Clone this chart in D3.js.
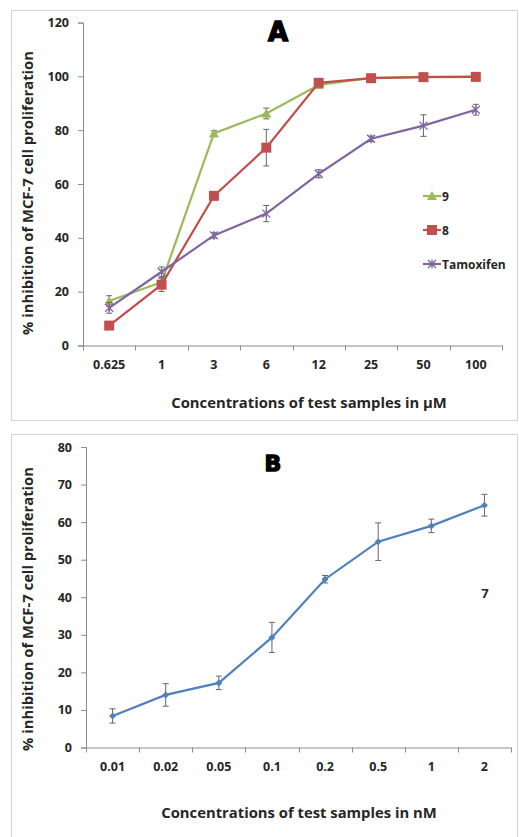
<!DOCTYPE html>
<html>
<head>
<meta charset="utf-8">
<script src="https://cdn.jsdelivr.net/npm/d3@7"></script>
<style>
  body { margin: 0; background: #fff; }
  svg text { font-family: "Open Sans", "Noto Sans", sans-serif; font-weight: bold; fill: #262626; }
</style>
</head>
<body>
<div id="chart"></div>
<script>
'use strict';

// Panel A data (µM)
const concA = ['0.625', '1', '3', '6', '12', '25', '50', '100'];
const val9 = [16.5, 23.5, 78.8, 86.2, 96.8, 99.4, 99.8, 99.9];
const err9 = [2, 1.5, 1, 2, 0.5, 0.3, 0.3, 0.3];
const val8 = [7.4, 22.6, 55.6, 73.5, 97.6, 99.3, 99.7, 99.8];
const err8 = [0.5, 2.5, 1, 6.8, 0.8, 0.3, 0.3, 0.3];
const valTam = [14, 27.4, 40.9, 49, 63.8, 76.8, 81.7, 87.6];
const errTam = [2, 1.8, 1, 3, 1.5, 1, 4, 2];
const ticksA = [0, 20, 40, 60, 80, 100, 120];

// Panel B data (nM)
const concB = ['0.01', '0.02', '0.05', '0.1', '0.2', '0.5', '1', '2'];
const val7 = [8.4, 14, 17.2, 29.3, 44.8, 54.8, 59, 64.5];
const err7 = [1.9, 3, 1.8, 4, 1, 5, 1.8, 2.9];
const ticksB = [0, 10, 20, 30, 40, 50, 60, 70, 80];

const yTitle = '% inhibition of MCF-7 cell proliferation';

const svg = d3.select('#chart').append('svg')
	.attr('width', 519)
	.attr('height', 837);

// panel frames
svg.append('rect').attr('x', 11.5).attr('y', 10.5).attr('width', 506).attr('height', 410)
	.attr('fill', 'none').attr('stroke', '#d4d4d4');
svg.append('rect').attr('x', 11.5).attr('y', 434.5).attr('width', 506).attr('height', 420)
	.attr('fill', 'none').attr('stroke', '#d4d4d4');

function drawPanel(cfg) {
	const g = svg.append('g');
	const x = d3.scaleBand().domain(cfg.cats).range([cfg.left, cfg.right]).padding(0);
	const y = d3.scaleLinear().domain([0, cfg.ymax]).range([cfg.bottom, cfg.top]);
	const cx = function(i) { return x(cfg.cats[i]) + x.bandwidth() / 2; };

	// y axis
	const yAxis = g.append('g')
		.attr('transform', 'translate(' + cfg.left + ',0)')
		.call(d3.axisLeft(y).tickValues(cfg.yticks).tickSize(5).tickPadding(9));
	yAxis.selectAll('text').style('font-size', '12.5px');

	// x axis: labels under band centres, ticks on category boundaries
	const xAxis = g.append('g')
		.attr('transform', 'translate(0,' + cfg.bottom + ')')
		.call(d3.axisBottom(x).tickSize(0).tickPadding(15));
	xAxis.selectAll('text').style('font-size', '12.5px');
	xAxis.selectAll('.domain').remove();
	g.append('line')
		.attr('x1', cfg.left).attr('x2', cfg.right)
		.attr('y1', cfg.bottom + 0.5).attr('y2', cfg.bottom + 0.5)
		.attr('stroke', '#8c8c8c');
	const bounds = cfg.cats.map(function(c) { return x(c); }).concat([cfg.right]);
	g.selectAll('.btick').data(bounds).enter().append('line')
		.attr('x1', function(d) { return Math.round(d) + 0.5; })
		.attr('x2', function(d) { return Math.round(d) + 0.5; })
		.attr('y1', cfg.bottom).attr('y2', cfg.bottom + 5)
		.attr('stroke', '#8c8c8c');
	g.selectAll('.domain, .tick line').attr('stroke', '#8c8c8c');

	// axis titles
	g.append('text')
		.attr('transform', 'translate(' + cfg.ytx + ',' + cfg.yty + ') rotate(-90)')
		.attr('text-anchor', 'middle')
		.style('font-size', '14.8px')
		.text(yTitle);
	g.append('text')
		.attr('x', cfg.xtx).attr('y', cfg.xty)
		.attr('text-anchor', 'middle')
		.style('font-size', '14.8px')
		.text(cfg.xTitle);

	// panel letter
	g.append('text')
		.attr('x', cfg.lx).attr('y', cfg.ly)
		.attr('text-anchor', 'middle')
		.style('font-family', '"DejaVu Sans", sans-serif')
		.style('font-weight', '900')
		.style('font-size', cfg.lsize + 'px')
		.style('fill', '#000')
		.attr('stroke', '#000').attr('stroke-width', 1.4)
		.text(cfg.letter);

	// series
	cfg.series.forEach(function(s) {
		const sg = g.append('g');
		const line = d3.line()
			.x(function(d, i) { return cx(i); })
			.y(function(d) { return y(d); });
		sg.append('path')
			.datum(s.values)
			.attr('fill', 'none')
			.attr('stroke', s.color)
			.attr('stroke-width', 2.2)
			.attr('d', line);

		// error bars
		const eb = sg.selectAll('.err').data(s.values).enter().append('g');
		eb.append('line')
			.attr('x1', function(d, i) { return cx(i); })
			.attr('x2', function(d, i) { return cx(i); })
			.attr('y1', function(d, i) { return y(d - s.errors[i]); })
			.attr('y2', function(d, i) { return y(d + s.errors[i]); })
			.attr('stroke', '#666').attr('stroke-width', 1);
		[-1, 1].forEach(function(sign) {
			eb.append('line')
				.attr('x1', function(d, i) { return cx(i) - 3; })
				.attr('x2', function(d, i) { return cx(i) + 3; })
				.attr('y1', function(d, i) { return y(d + sign * s.errors[i]); })
				.attr('y2', function(d, i) { return y(d + sign * s.errors[i]); })
				.attr('stroke', '#666').attr('stroke-width', 1);
		});

		// markers
		sg.selectAll('.mk').data(s.values).enter().append('path')
			.attr('transform', function(d, i) { return 'translate(' + cx(i) + ',' + y(d) + ')'; })
			.attr('d', markerPath(s.marker))
			.attr('fill', s.marker === 'x' ? 'none' : s.color)
			.attr('stroke', s.color)
			.attr('stroke-width', s.marker === 'x' ? 1.3 : 0);
	});

	// legend
	if (cfg.legend) {
		cfg.series.forEach(function(s, i) {
			const ly = cfg.legend.y + i * cfg.legend.gap;
			const lx = cfg.legend.x;
			g.append('line')
				.attr('x1', lx).attr('x2', lx + 18)
				.attr('y1', ly).attr('y2', ly)
				.attr('stroke', s.color).attr('stroke-width', 2.2);
			g.append('path')
				.attr('transform', 'translate(' + (lx + 9) + ',' + ly + ')')
				.attr('d', markerPath(s.marker))
				.attr('fill', s.marker === 'x' ? 'none' : s.color)
				.attr('stroke', s.color)
				.attr('stroke-width', s.marker === 'x' ? 1.3 : 0);
			g.append('text')
				.attr('x', lx + 19).attr('y', ly + 4.5)
				.style('font-size', '12px')
				.text(s.name);
		});
	}
}

function markerPath(kind) {
	if (kind === 'square') return 'M-5,-5H5V5H-5Z';
	if (kind === 'triangle') return 'M0,-5L5,4H-5Z';
	if (kind === 'diamond') return 'M0,-3.5L3.5,0L0,3.5L-3.5,0Z';
	return 'M-4,-4L4,4M-4,4L4,-4M0,-4.5V4.5';
}

drawPanel({
	cats: concA, ymax: 120, yticks: ticksA,
	left: 83, right: 502, top: 22.5, bottom: 345.5,
	ytx: 33, yty: 193, xtx: 309, xty: 408,
	xTitle: 'Concentrations of test samples in µM',
	letter: 'A', lx: 278, ly: 41, lsize: 26,
	legend: { x: 423, y: 196, gap: 34 },
	series: [
		{ name: '9', values: val9, errors: err9, color: '#9bbb59', marker: 'triangle' },
		{ name: '8', values: val8, errors: err8, color: '#c0504d', marker: 'square' },
		{ name: 'Tamoxifen', values: valTam, errors: errTam, color: '#8064a2', marker: 'x' }
	]
});

drawPanel({
	cats: concB, ymax: 80, yticks: ticksB,
	left: 86, right: 511, top: 447, bottom: 747.5,
	ytx: 33, yty: 609, xtx: 299, xty: 818,
	xTitle: 'Concentrations of test samples in nM',
	letter: 'B', lx: 273, ly: 471, lsize: 22,
	legend: null,
	series: [
		{ name: '7', values: val7, errors: err7, color: '#4f81bd', marker: 'diamond' }
	]
});

// series label in panel B
svg.append('text')
	.attr('x', 485).attr('y', 598)
	.attr('text-anchor', 'middle')
	.style('font-size', '13px')
	.text('7');
</script>
</body>
</html>
